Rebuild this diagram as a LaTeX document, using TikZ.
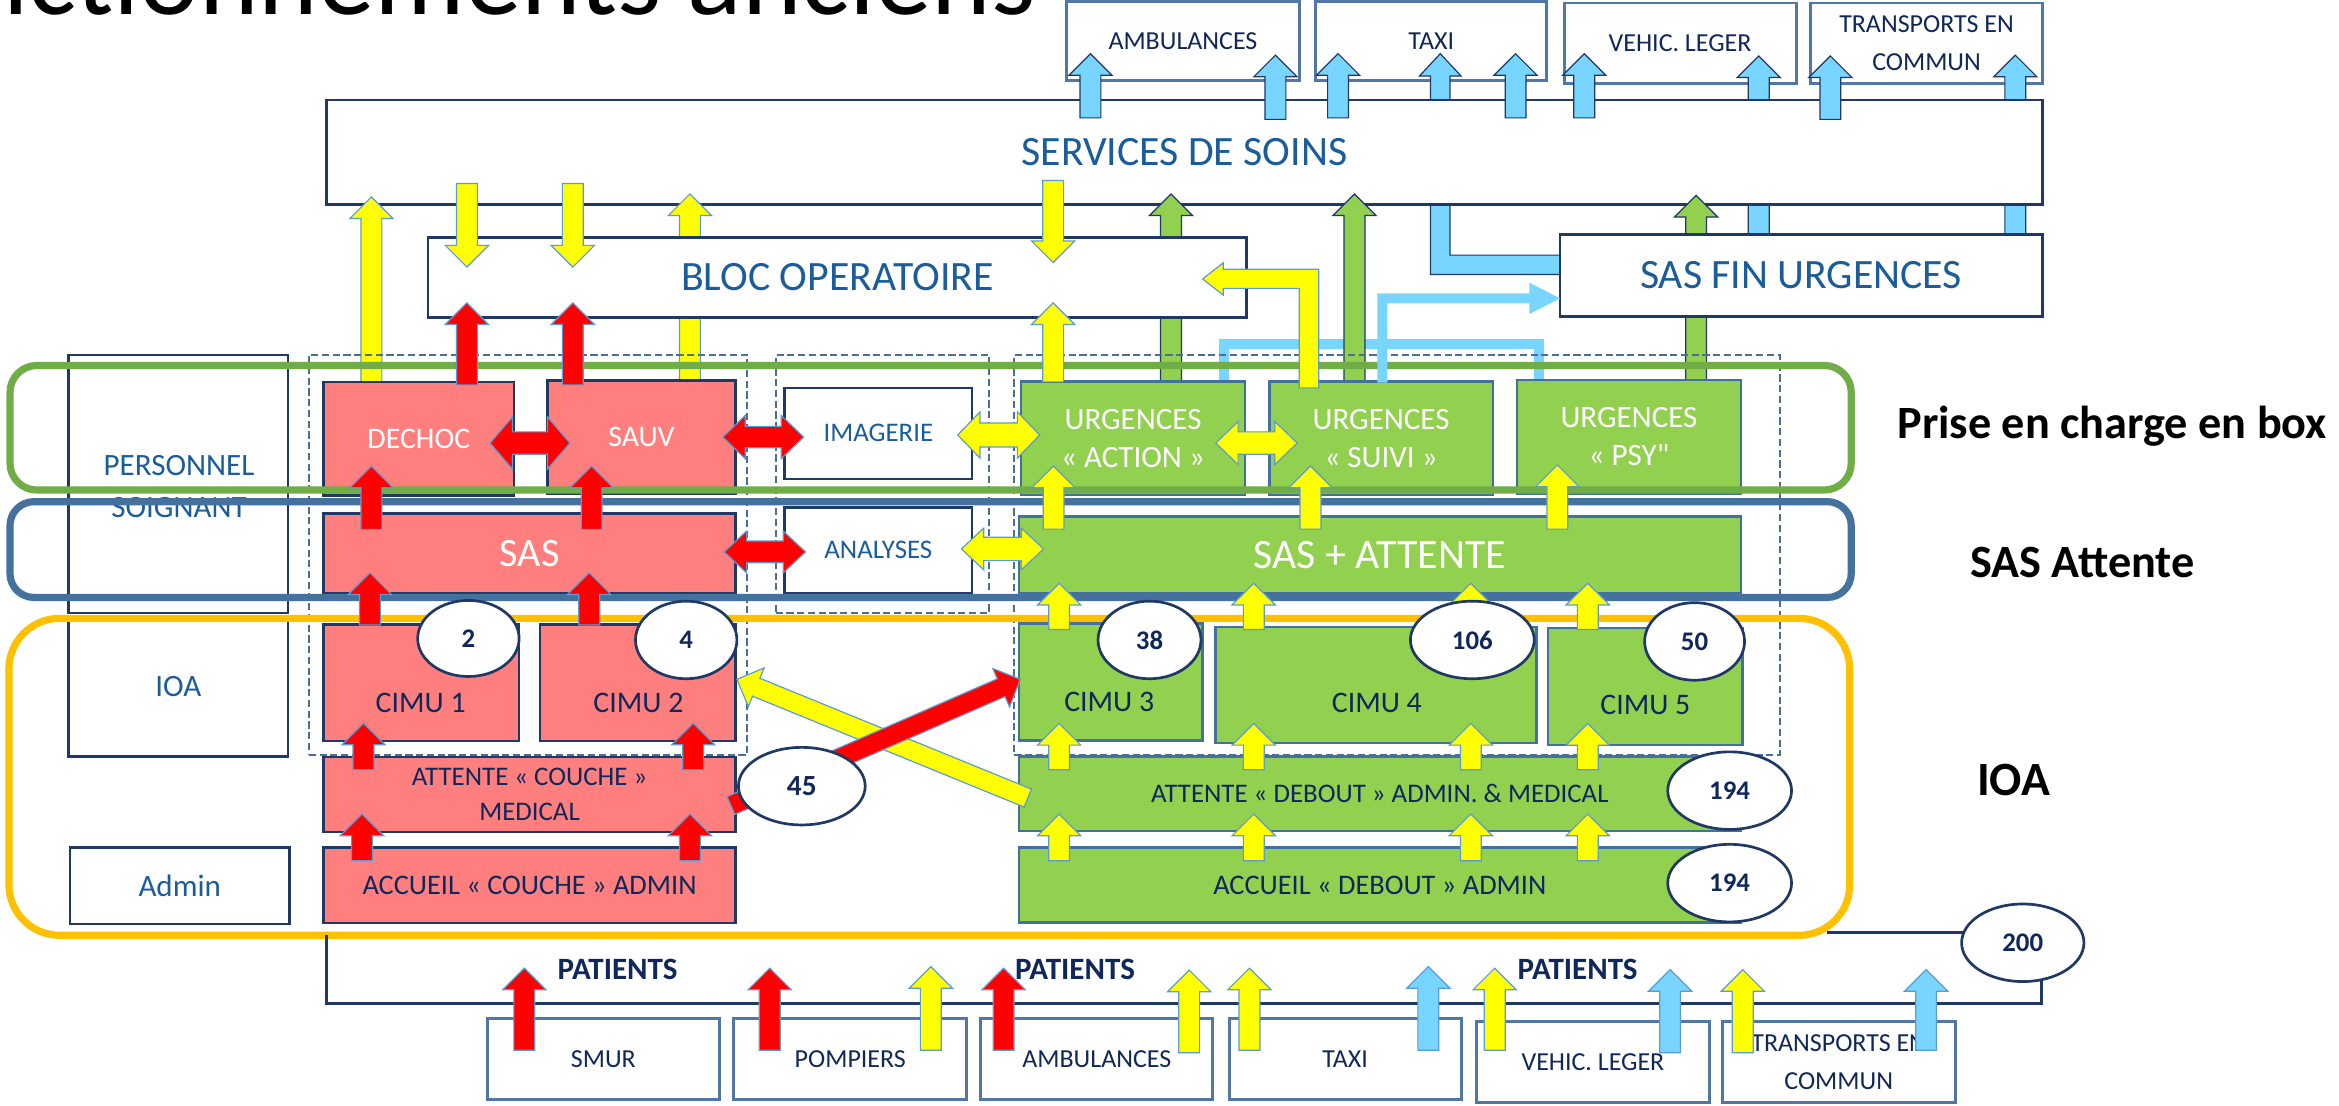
\documentclass[tikz,border=0pt]{standalone}
\usepackage{fontspec}
\setmainfont{Carlito}[Ligatures=TeXOff]
\usetikzlibrary{shapes.geometric}
\definecolor{navy}{HTML}{1F3864}
\definecolor{txtblue}{HTML}{1B5C9B}
\definecolor{txtnavy}{HTML}{10275A}
\definecolor{salmon}{HTML}{FF7F7F}
\definecolor{lgreen}{HTML}{92D050}
\definecolor{lblue}{HTML}{78D5FF}
\definecolor{steel}{HTML}{41719C}
\definecolor{slate}{HTML}{5077A5}
\definecolor{dashc}{HTML}{4A6E96}
\definecolor{bandorange}{HTML}{FFC000}
\definecolor{bandgreen}{HTML}{70AD47}
\definecolor{bandblue}{HTML}{44719D}
\definecolor{arrowline}{HTML}{5B9BD5}
\definecolor{pureyellow}{HTML}{FFFF00}
\definecolor{purered}{HTML}{FF0000}

\newcommand{\mkbox}[7]{\node[#6, minimum width={(#4-#2)*0.5pt}, minimum height={(#5-#3)*0.5pt}] (#1) at ({(#2+#4)/2},{(#3+#5)/2}) {#7};}
\newcommand{\arrUp}[4]{\path[#4] ({#1-7},#2) -- ({#1-7},{#3+14.5}) -- ({#1-14.5},{#3+14.5}) -- (#1,#3) -- ({#1+14.5},{#3+14.5}) -- ({#1+7},{#3+14.5}) -- ({#1+7},#2) -- cycle;}
\newcommand{\arrDown}[4]{\path[#4] ({#1-7},#2) -- ({#1-7},{#3-14.5}) -- ({#1-14.5},{#3-14.5}) -- (#1,#3) -- ({#1+14.5},{#3-14.5}) -- ({#1+7},{#3-14.5}) -- ({#1+7},#2) -- cycle;}
\newcommand{\arrLR}[6]{\path[#6] (#1,#3) -- ({#1+15},{#3-#4}) -- ({#1+15},{#3-#5}) -- ({#2-15},{#3-#5}) -- ({#2-15},{#3-#4}) -- (#2,#3) -- ({#2-15},{#3+#4}) -- ({#2-15},{#3+#5}) -- ({#1+15},{#3+#5}) -- ({#1+15},{#3+#4}) -- cycle;}
\newcommand{\arrDiag}[5]{%
  \pgfmathsetmacro\dgang{atan2(-(#4-#2),(#3-#1))}%
  \pgfmathsetmacro\dglen{veclen((#3-#1),(#4-#2))}%
  \begin{scope}[shift={(#1,#2)},rotate=\dgang]
    \path[#5] (0,6.5) -- ({\dglen-14},6.5) -- ({\dglen-14},14) -- (\dglen,0) -- ({\dglen-14},-14) -- ({\dglen-14},-6.5) -- (0,-6.5) -- cycle;
  \end{scope}}

\begin{document}
\begin{tikzpicture}[x=0.5pt,y=-0.5pt,
  wbox/.style={draw=navy, line width=0.9pt, fill=white, inner sep=0pt, outer sep=0pt, align=center, text=txtblue},
  redbox/.style={wbox, fill=salmon},
  greenbox/.style={wbox, draw=steel, fill=lgreen},
  tbox/.style={wbox, draw=slate, line width=1pt, text=txtnavy, font=\fontsize{8.7}{11}\selectfont},
  dbox/.style={draw=dashc, line width=0.65pt, dash pattern=on 2.4pt off 1.2pt, inner sep=0pt},
  band/.style={line width=2.4pt},
  yar/.style={fill=pureyellow, draw=arrowline, line width=0.4pt},
  rar/.style={fill=purered, draw=arrowline, line width=0.4pt},
  gar/.style={fill=lgreen, draw=navy, line width=0.4pt},
  bar/.style={fill=lblue, draw=navy, line width=0.4pt},
  bar2/.style={fill=lblue, draw=arrowline, line width=0.4pt},
  num/.style={ellipse, draw=navy, line width=0.9pt, fill=white, inner sep=0pt, text=txtnavy, font=\fontsize{9}{10}\selectfont\bfseries},
  lbl/.style={inner sep=0pt, align=center},
  wt/.style={text=white},
  nt/.style={text=txtnavy}
]
\useasboundingbox (0,0) rectangle (1568,741);
\fill[white] (0,0) rectangle (1568,741);

% title (clipped by page, as in the reference)
\begin{scope}
\clip (0,0) rectangle (1568,741);
\node[anchor=base east, inner sep=0pt, font=\fontsize{38}{40}\selectfont] (title) at (695,10) {fonctionnements anciens};
\end{scope}

% top transport boxes
\mkbox{tamb}{715}{1}{871}{54}{tbox}{AMBULANCES}
\mkbox{ttaxi}{882}{1}{1037}{54}{tbox}{TAXI}
\mkbox{tveh}{1048.5}{2}{1204}{56}{tbox}{VEHIC. LEGER}
\mkbox{ttc}{1214}{2}{1369}{56}{tbox}{TRANSPORTS EN\\[2pt]COMMUN}

% blue arrows passing behind SERVICES
\arrUp{1179}{157}{37.5}{bar}
\arrUp{1351}{157}{37}{bar}
\path[bar] (959,184) -- (959,51) -- (951.5,51) -- (965.5,36) -- (979.5,51) -- (972,51) -- (972,171) -- (1046,171) -- (1046,184) -- cycle;

\mkbox{serv}{219}{67}{1369}{137}{wbox, font=\fontsize{14}{16}\selectfont}{SERVICES DE SOINS}

% short blue arrows to transport boxes
\arrUp{731}{79}{36}{bar}
\arrUp{855}{80}{37}{bar}
\arrUp{897}{79}{36}{bar}
\arrUp{1016}{79}{36}{bar}
\arrUp{1062}{79}{36}{bar}
\arrUp{1227}{80}{37.5}{bar}

% light blue bracket
\draw[lblue, line width=3.35pt] (820.2,254.7) -- (820.2,230.7) -- (1031.9,230.7) -- (1031.9,254.7);

% long arrows behind BLOC / SAS FIN
\arrUp{249}{256}{132}{yar}
\arrUp{462.5}{255}{130}{yar}
\arrUp{785}{259}{130}{gar}
\arrUp{908}{259}{130}{gar}
\arrUp{1137}{260}{131}{gar}

\mkbox{bloc}{287}{159}{835.8}{213}{wbox, font=\fontsize{14}{16}\selectfont}{BLOC OPERATOIRE}
\mkbox{sasfin}{1045.8}{157}{1369}{212}{wbox, font=\fontsize{14}{16}\selectfont}{SAS FIN URGENCES}

% left column
\mkbox{pers}{46}{238}{193}{411}{wbox}{}
\node[lbl, text=txtblue, font=\fontsize{10.4}{14}\selectfont] (perst) at (120,326) {PERSONNEL\\SOIGNANT};
\mkbox{ioal}{46}{413}{193}{507}{wbox, font=\fontsize{10.4}{12}\selectfont}{IOA}
\mkbox{admin}{47}{568}{194}{619.5}{wbox, font=\fontsize{10.4}{12}\selectfont}{Admin}

% red part
\mkbox{dechoc}{217}{256}{344.5}{332}{redbox, wt, font=\fontsize{10}{12}\selectfont}{DECHOC}
\mkbox{sauv}{367}{255}{493}{331}{redbox, wt, font=\fontsize{10}{12}\selectfont}{SAUV}
\mkbox{sas}{217}{344}{493}{397.6}{redbox, wt, font=\fontsize{13.5}{15}\selectfont}{SAS}
\mkbox{cimu1}{217}{418.5}{348}{496.7}{redbox}{}
\mkbox{cimu2}{362}{418.5}{493}{496.7}{redbox}{}
\node[lbl, nt, font=\fontsize{10}{12}\selectfont] (c1t) at (282,471.5) {CIMU 1};
\node[lbl, nt, font=\fontsize{10}{12}\selectfont] (c2t) at (428,471.5) {CIMU 2};
\mkbox{attc}{217}{507.4}{493}{557.8}{redbox, nt, font=\fontsize{9}{11.6}\selectfont}{ATTENTE « COUCHE »\\MEDICAL}
\mkbox{accc}{217}{568}{493}{618.8}{redbox, nt, font=\fontsize{9.5}{11}\selectfont}{ACCUEIL « COUCHE » ADMIN}

% imagerie / analyses
\mkbox{imag}{526}{260}{651.6}{321}{wbox, font=\fontsize{9}{11}\selectfont}{IMAGERIE}
\mkbox{anal}{526}{340}{651.6}{397.6}{wbox, font=\fontsize{9}{11}\selectfont}{ANALYSES}

% green part
\mkbox{uact}{684.5}{255.9}{834.6}{331.9}{greenbox, wt, font=\fontsize{10.4}{12.7}\selectfont}{URGENCES\\« ACTION »}
\mkbox{usui}{850.8}{255.9}{1000.9}{331.9}{greenbox, wt, font=\fontsize{10.4}{12.7}\selectfont}{URGENCES\\« SUIVI »}
\mkbox{upsy}{1017}{254.8}{1167}{331}{greenbox, wt, font=\fontsize{10.4}{12.7}\selectfont}{URGENCES\\« PSY"}
\mkbox{sasatt}{683}{346.4}{1167}{397.6}{greenbox, wt, font=\fontsize{14}{16}\selectfont}{SAS + ATTENTE}
\mkbox{cimu3}{683}{417.8}{806}{496.5}{greenbox}{}
\mkbox{cimu4}{815}{420.4}{1029.8}{498}{greenbox}{}
\mkbox{cimu5}{1037.8}{421}{1168}{499.5}{greenbox}{}
\node[lbl, nt, font=\fontsize{10}{12}\selectfont] (c3t) at (743.6,470.4) {CIMU 3};
\node[lbl, nt, font=\fontsize{10}{12}\selectfont] (c4t) at (923,471.5) {CIMU 4};
\node[lbl, nt, font=\fontsize{10}{12}\selectfont] (c5t) at (1103,472.6) {CIMU 5};
\mkbox{attd}{683}{507.3}{1167}{557}{greenbox, nt, font=\fontsize{9}{11}\selectfont}{ATTENTE « DEBOUT » ADMIN. \& MEDICAL}
\mkbox{accd}{683}{568}{1167}{618.5}{greenbox, nt, font=\fontsize{9.5}{11}\selectfont}{ACCUEIL « DEBOUT » ADMIN}

% bottom boxes
\mkbox{bsmur}{327}{683}{482}{737}{tbox}{SMUR}
\mkbox{bpomp}{492}{683}{648}{737}{tbox}{POMPIERS}
\mkbox{bamb}{657.5}{683}{813}{737}{tbox}{AMBULANCES}
\mkbox{btaxi}{824}{683}{979.5}{737}{tbox}{TAXI}
\mkbox{bveh}{990}{685}{1145.7}{739}{tbox}{VEHIC. LEGER}
\mkbox{btc}{1154.6}{685}{1310.6}{739}{tbox}{TRANSPORTS EN\\[2pt]COMMUN}

% dashed groups
\mkbox{dred}{207}{238}{501}{506}{dbox}{}
\mkbox{dimg}{520}{238}{663}{411}{dbox}{}
\mkbox{dgreen}{680}{238}{1193}{506}{dbox}{}

% bands
\draw[band, draw=bandgreen, rounded corners=9pt] (6.7,245) rectangle (1241,328.5);
\draw[band, draw=bandblue, rounded corners=8pt] (6.7,336.3) rectangle (1241,400.5);
\draw[band, draw=bandorange, rounded corners=17pt] (6,414.5) rectangle (1240,627);

% arrows between services / bloc
\arrDown{313}{123}{179}{yar}
\arrDown{384}{123}{179}{yar}
\arrDown{706}{121}{176}{yar}
\arrUp{706}{256}{203}{yar}
\arrUp{313}{258}{203}{rar}
\arrUp{384}{258}{203}{rar}
\path[yar] (871,260) -- (871,193.3) -- (820,193.3) -- (820,197.8) -- (806.2,187) -- (820,176.2) -- (820,180.5) -- (884,180.5) -- (884,260) -- cycle;
\path[fill=lblue] (923.4,256.5) -- (923.4,196.6) -- (1025.2,196.6) -- (1025.2,189.5) -- (1045.8,200) -- (1025.2,210.5) -- (1025.2,203.3) -- (930,203.3) -- (930,256.5) -- cycle;

% red internal arrows
\arrUp{249}{355}{312.5}{rar}
\arrUp{396.6}{355}{312.5}{rar}
\arrUp{248}{419}{384}{rar}
\arrUp{395}{419}{384}{rar}
\arrUp{243.7}{516}{484.8}{rar}
\arrUp{464.7}{516}{484.8}{rar}
\arrUp{242.7}{577}{545.7}{rar}
\arrUp{462.5}{577}{545.7}{rar}

% yellow internal arrows
\arrUp{706.3}{354.7}{312.4}{yar}
\arrUp{878.5}{354.7}{312.4}{yar}
\arrUp{1044}{354.7}{311.7}{yar}
\foreach \xx in {710,840.5,986,1064.4}{
  \arrUp{\xx}{422}{391}{yar}
  \arrUp{\xx}{516}{485}{yar}
  \arrUp{\xx}{577}{545.7}{yar}
}

% double arrows
\arrLR{328.5}{382}{297}{17.5}{7.5}{rar}
\arrLR{484.6}{538.7}{293}{14.5}{7.2}{rar}
\arrLR{485.5}{540}{370}{14}{7.3}{rar}
\arrLR{642}{697}{291.6}{15.5}{8}{yar}
\arrLR{644.5}{699.6}{368}{14}{7.8}{yar}
\arrLR{815}{869.6}{297}{14.5}{7.5}{yar}

% diagonal arrows
\arrDiag{689}{535}{494}{455.4}{yar}
\arrDiag{490}{540}{684}{455.4}{rar}

% bottom frame lines
\draw[navy, line width=0.9pt] (218.7,627) -- (218.7,672.6) -- (1368.5,672.6) -- (1368.5,655);
\draw[navy, line width=0.9pt] (1225,625) -- (1318,625);

% bottom arrows
\arrUp{351.5}{704}{649}{rar}
\arrUp{516}{704}{649}{rar}
\arrUp{624}{704}{648}{yar}
\arrUp{672.8}{704}{649}{rar}
\arrUp{797.2}{705.7}{650.3}{yar}
\arrUp{837.6}{704}{649}{yar}
\arrUp{957.5}{704}{648}{bar2}
\arrUp{1002}{704}{649}{yar}
\arrUp{1119.6}{705.7}{650}{bar2}
\arrUp{1168.3}{705.7}{650}{yar}
\arrUp{1291.2}{704}{650}{bar2}

% counts
\node[num, minimum width=34pt, minimum height=25.5pt] (n2) at (314,428) {2};
\node[num, minimum width=34pt, minimum height=26pt] (n4) at (460,429) {4};
\node[num, minimum width=42.5pt, minimum height=26pt, font=\fontsize{9.8}{11}\selectfont\bfseries] (n45) at (537.5,527) {45};
\node[num, minimum width=34.5pt, minimum height=26pt] (n38) at (770.6,429) {38};
\node[num, minimum width=41.5pt, minimum height=26pt] (n106) at (987,429) {106};
\node[num, minimum width=33.5pt, minimum height=26pt] (n50) at (1136,430) {50};
\node[num, minimum width=41.5pt, minimum height=26pt] (n194a) at (1159.5,530) {194};
\node[num, minimum width=41.5pt, minimum height=26pt] (n194b) at (1159.5,592) {194};
\node[num, minimum width=41pt, minimum height=26pt] (n200) at (1356,632) {200};

% labels
\node[lbl, font=\fontsize{15.5}{18}\selectfont\bfseries] (lprise) at (1416,286) {Prise en charge en box};
\node[lbl, font=\fontsize{15.5}{18}\selectfont\bfseries] (lsas) at (1396,377) {SAS Attente};
\node[lbl, font=\fontsize{16}{18}\selectfont\bfseries] (lioa) at (1350,523) {IOA};
\node[lbl, nt, font=\fontsize{10.4}{12}\selectfont\bfseries] (p1) at (414,649.7) {PATIENTS};
\node[lbl, nt, font=\fontsize{10.4}{12}\selectfont\bfseries] (p2) at (720.6,649.7) {PATIENTS};
\node[lbl, nt, font=\fontsize{10.4}{12}\selectfont\bfseries] (p3) at (1057.6,649.7) {PATIENTS};
\end{tikzpicture}
\end{document}
